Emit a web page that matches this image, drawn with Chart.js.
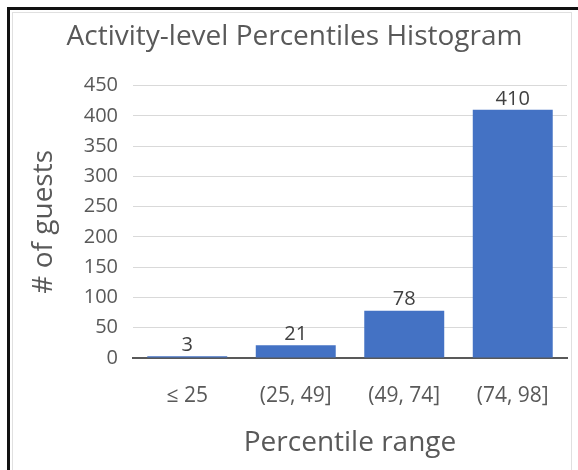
<!DOCTYPE html>
<html>
<head>
<meta charset="utf-8">
<script src="https://cdn.jsdelivr.net/npm/chart.js@4"></script>
<style>
  html, body { margin: 0; padding: 0; background: #fff; overflow: hidden; }
  #wrap { position: relative; width: 578px; height: 470px; overflow: hidden; }
  #frame { position: absolute; left: 7px; top: 7px; width: 571px; height: 463px;
           border-left: 3px solid #111; border-top: 3px solid #111; box-sizing: border-box; }
  #inner { position: absolute; left: 12px; top: 12px; width: 560px; height: 458px;
           border-left: 1px solid #e0e0e0; border-top: 1px solid #e0e0e0; border-right: 1px solid #e0e0e0; box-sizing: border-box; }
  canvas { position: absolute; left: 0; top: 0; }
</style>
</head>
<body>
<div id="wrap">
  <div id="frame"></div>
  <div id="inner"></div>
  <canvas id="c" width="578" height="470"></canvas>
</div>
<script>
const categories = ['\u2264 25', '(25, 49]', '(49, 74]', '(74, 98]'];
const guests = [3, 21, 78, 410];
const yTicks = [0, 50, 100, 150, 200, 250, 300, 350, 400, 450];

const FONT = "'Open Sans', 'Noto Sans', sans-serif";
const GREY = '#595959';

// writes each bar's value just above it
const valueLabels = {
  id: 'valueLabels',
  afterDatasetsDraw(chart) {
    const ctx = chart.ctx;
    const meta = chart.getDatasetMeta(0);
    ctx.save();
    ctx.font = `20px ${FONT}`;
    ctx.fillStyle = '#404040';
    ctx.textAlign = 'center';
    ctx.textBaseline = 'bottom';
    meta.data.forEach((bar, i) => {
      ctx.fillText(String(guests[i]), bar.x, bar.y - 1);
    });
    ctx.restore();
  }
};

new Chart(document.getElementById('c'), {
  type: 'bar',
  data: {
    labels: categories,
    datasets: [{
      data: guests,
      backgroundColor: '#4472C4',
      categoryPercentage: 0.737,
      barPercentage: 1.0
    }]
  },
  options: {
    responsive: false,
    animation: false,
    events: [],
    layout: { padding: { top: 10, left: 22, right: 11, bottom: 0 } },
    plugins: {
      legend: { display: false },
      tooltip: { enabled: false },
      title: {
        display: true,
        text: 'Activity-level Percentiles Histogram',
        color: GREY,
        font: { family: FONT, size: 28, weight: 'normal' },
        padding: { top: 10, bottom: 32 }
      }
    },
    scales: {
      x: {
        afterFit(scale) { scale.height = 112; },
        grid: { display: false, drawTicks: false },
        border: { display: true, color: '#595959', width: 2 },
        ticks: { color: GREY, font: { family: FONT, size: 21 }, padding: 25 },
        title: {
          display: true, text: 'Percentile range', color: GREY,
          font: { family: FONT, size: 28 }, padding: { top: 0, bottom: 10 }
        }
      },
      y: {
        min: 0, max: 450,
        afterBuildTicks(scale) { scale.ticks = yTicks.map(v => ({ value: v })); },
        afterFit(scale) { scale.width = 111; },
        grid: { color: '#d9d9d9', drawTicks: false, lineWidth: 1 },
        border: { display: false },
        ticks: { color: GREY, font: { family: FONT, size: 20 }, padding: 15 },
        title: {
          display: true, text: '# of guests', color: GREY,
          font: { family: FONT, size: 28 }, padding: { top: 5, bottom: 0 }
        }
      }
    }
  },
  plugins: [valueLabels]
});
</script>
</body>
</html>
